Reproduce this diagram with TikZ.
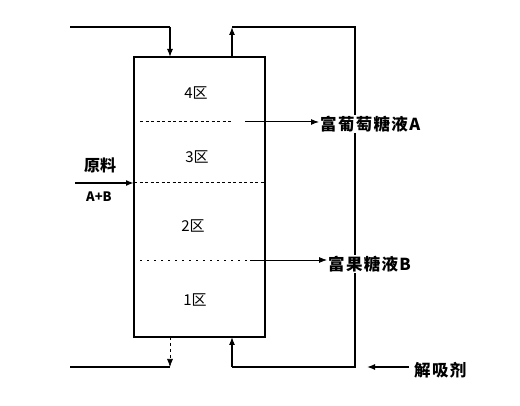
\documentclass[tikz,border=0pt]{standalone}
\usepackage{fontspec}
\setmainfont{Noto Sans CJK SC}
\usetikzlibrary{arrows.meta}
\begin{document}
\begin{tikzpicture}[x=1pt,y=-1pt,
  line/.style={line width=1.3pt},
  arr/.style={line width=1.1pt,-{Latex[length=8pt,width=6pt]}},
  divider/.style={line width=1pt,dash pattern=on 3pt off 2.5pt},
  zone/.style={font=\fontsize{15}{17}\selectfont},
  lbl/.style={font=\fontsize{16.5}{18}\selectfont\bfseries\addfontfeature{LetterSpace=8},fill=white,inner sep=1pt,anchor=west}]
\useasboundingbox (0,0) rectangle (520,406);
% column
\node[draw,line width=1.3pt,minimum width=131pt,minimum height=280pt,inner sep=0pt] (col) at (199.5,197) {};
\node[zone] (z4) at (196,93) {4区};
\node[zone] (z3) at (197,157) {3区};
\node[zone] (z2) at (193,226) {2区};
\node[zone] (z1) at (195,300) {1区};
% dividers
\coordinate (d4a) at (140,122); \coordinate (d4b) at (232,122);
\draw[divider] (d4a) -- (d4b);
\coordinate (d3a) at (134,183); \coordinate (d3b) at (265,183);
\draw[divider] (d3a) -- (d3b);
\coordinate (d2a) at (140,260); \coordinate (d2b) at (250,260);
\draw[divider,line width=0.6pt,dash pattern=on 2pt off 5pt] (d2a) -- (d2b);
% top inlet
\coordinate (tl) at (70,27); \coordinate (tlc) at (170,27);
\coordinate (tin) at (170,57);
\draw[line] (tl) -- (tlc);
\draw[arr] (tlc) -- (tin);
% recycle loop
\coordinate (tout) at (232,57); \coordinate (tr1) at (232,27);
\coordinate (tr2) at (355,27); \coordinate (br2) at (355,367);
\coordinate (br1) at (232,367); \coordinate (bin) at (232,337);
\draw[arr] (tout) -- (tr1);
\draw[line] (tr1) -- (tr2) -- (br2) -- (br1);
\draw[arr] (br1) -- (bin);
% bottom outlet
\coordinate (bout) at (170,337); \coordinate (bl1) at (170,367);
\coordinate (bl) at (70,367);
\draw[arr,dashed,line width=0.7pt] (bout) -- (bl1);
\draw[line] (bl1) -- (bl);
% product A
\node[lbl] (pa) at (319,124) {富葡萄糖液A};
\coordinate (pas) at (245,122);
\draw[arr,line width=1pt] (pas) -- (pa.west|-pas);
% product B
\node[lbl] (pb) at (327,264) {富果糖液B};
\coordinate (pbs) at (250,260);
\draw[arr,line width=0.8pt] (pbs) -- (pb.west|-pbs);
% feed
\node[font=\fontsize{16}{18}\selectfont\bfseries] (feed) at (100,165) {原料};
\node[font=\fontsize{13}{15}\selectfont\bfseries] (ab) at (99,197) {A+B};
\coordinate (fs) at (75,183);
\draw[arr,line width=1.8pt] (fs) -- (d3a);
% desorbent
\node[lbl] (des) at (413,370) {解吸剂};
\coordinate (dse) at (367,367);
\draw[arr,line width=1.3pt] (des.west|-dse) ++(-4,0) -- (dse);
\end{tikzpicture}
\end{document}
